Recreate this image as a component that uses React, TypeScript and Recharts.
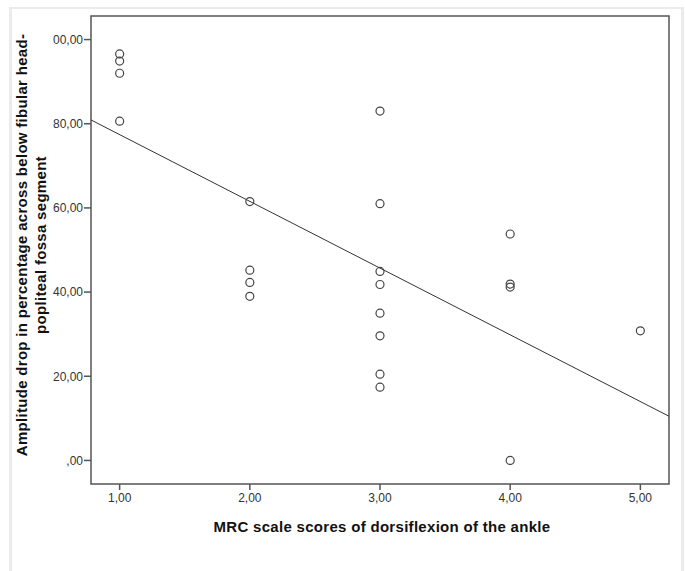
import { ReferenceArea, Scatter, ScatterChart, XAxis, YAxis } from "recharts"

// MRC score (x) and amplitude drop % (y)
const mrcScores = [1, 1, 1, 1, 2, 2, 2, 2, 3, 3, 3, 3, 3, 3, 3, 3, 4, 4, 4, 4, 5]
const amplitudeDrop = [
	96.6, 94.9, 92.0, 80.6, 61.5, 45.2, 42.3, 39.0, 83.0, 61.0, 44.9, 41.8, 35.0, 29.6, 20.5, 17.4,
	53.8, 41.9, 41.2, 0.0, 30.8
]

// fit line end points at the frame edges
const fitX = [0.78, 5.22]
const fitY = [80.9, 10.5]

const xTicks = [1, 2, 3, 4, 5]
const xTickLabels = ["1,00", "2,00", "3,00", "4,00", "5,00"]
const yTicks = [0, 20, 40, 60, 80, 100]
const yTickLabels = [",00", "20,00", "40,00", "60,00", "80,00", "00,00"]

const X_DOMAIN: [number, number] = [0.78, 5.22]
const Y_DOMAIN: [number, number] = [-5.6, 105.6]

const points = mrcScores.map((x, i) => ({ x, y: amplitudeDrop[i] }))
const fitLine = fitX.map((x, i) => ({ x, y: fitY[i] }))

const FONT = "'Liberation Sans', Arial, sans-serif"
const FRAME = "#555"

const YTitle = ({ viewBox }: any) => {
	const x = 27
	const cy = viewBox.y + viewBox.height / 2 - 5
	return (
		<text
			transform={`rotate(-90, ${x}, ${cy})`}
			x={x}
			y={cy}
			textAnchor="middle"
			fontFamily={FONT}
			fontWeight="bold"
			fontSize={15}
			letterSpacing={0.3}
			fill="#111"
		>
			<tspan x={x} dy={0}>Amplitude drop in percentage across below fibular head-</tspan>
			<tspan x={x} dy={19}>popliteal fossa segment</tspan>
		</text>
	)
}

const XTitle = ({ viewBox }: any) => (
	<text
		x={viewBox.x + viewBox.width / 2 + 2}
		y={532}
		textAnchor="middle"
		fontFamily={FONT}
		fontWeight="bold"
		fontSize={15}
		letterSpacing={0.3}
		fill="#111"
	>
		MRC scale scores of dorsiflexion of the ankle
	</text>
)

const Ring = ({ cx, cy }: any) => (
	<circle cx={cx} cy={cy} r={4} fill="none" stroke="#444" strokeWidth={1.2} />
)

export default function App() {
	return (
		<div style={{ position: "absolute", left: 0, top: 0, width: 685, height: 571, background: "#fff" }}>
			<div
				style={{
					position: "absolute",
					left: 9,
					top: 7,
					width: 669,
					height: 564,
					borderTop: "2px solid #ebebeb",
					borderLeft: "3px solid #ebebeb",
					borderRight: "3px solid #ebebeb"
				}}
			/>
			<div style={{ position: "absolute", left: 0, top: 0 }}>
				<ScatterChart width={685} height={571} margin={{ top: 16, right: 16, bottom: 0, left: 0 }}>
					<XAxis
						type="number"
						dataKey="x"
						domain={X_DOMAIN}
						ticks={xTicks}
						allowDataOverflow
						height={87}
						axisLine={false}
						tickLine={{ stroke: FRAME, strokeWidth: 1.5 }}
						tickSize={6}
						tickMargin={3}
						tick={{ fontSize: 12, fontFamily: FONT, fill: "#333" }}
						tickFormatter={(v: number) => xTickLabels[xTicks.indexOf(v)] ?? ""}
						label={{ content: XTitle }}
					/>
					<YAxis
						type="number"
						dataKey="y"
						domain={Y_DOMAIN}
						ticks={yTicks}
						allowDataOverflow
						width={91}
						axisLine={false}
						tickLine={{ stroke: FRAME, strokeWidth: 1.5 }}
						tickSize={7}
						tickMargin={1}
						tick={{ fontSize: 12, fontFamily: FONT, fill: "#333" }}
						tickFormatter={(v: number) => yTickLabels[yTicks.indexOf(v)] ?? ""}
						label={{ content: YTitle }}
					/>
					<ReferenceArea
						x1={X_DOMAIN[0]}
						x2={X_DOMAIN[1]}
						y1={Y_DOMAIN[0]}
						y2={Y_DOMAIN[1]}
						fill="none"
						fillOpacity={0}
						stroke={FRAME}
						strokeWidth={1.5}
					/>
					<Scatter
						data={fitLine}
						line={{ stroke: "#333", strokeWidth: 1 }}
						shape={() => null}
						isAnimationActive={false}
					/>
					<Scatter data={points} shape={Ring} isAnimationActive={false} />
				</ScatterChart>
			</div>
		</div>
	)
}
